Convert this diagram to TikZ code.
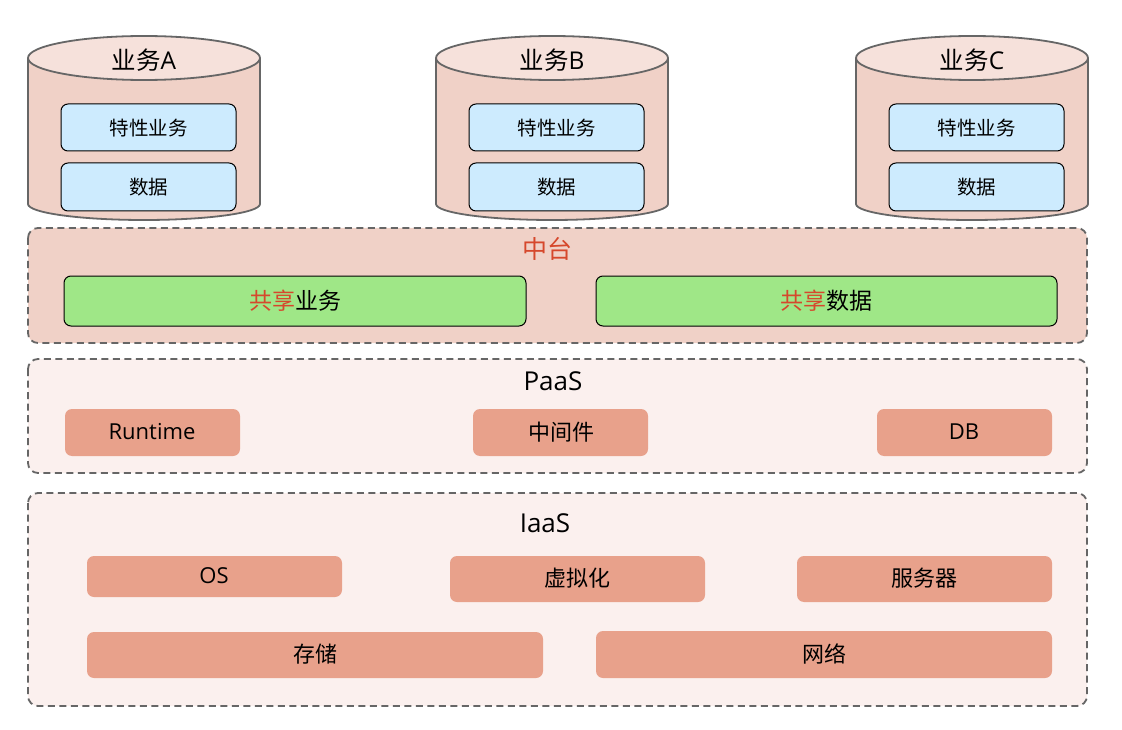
\documentclass[tikz,border=0pt]{standalone}
\usepackage{fontspec}
\setmainfont{Open Sans}
\newfontfamily\cjk{Noto Sans CJK SC}
\usetikzlibrary{shapes.geometric}
\definecolor{cylfill}{HTML}{F0D1C7}
\definecolor{cyltop}{HTML}{F6E1DB}
\definecolor{bluebox}{HTML}{CDEBFE}
\definecolor{greenbox}{HTML}{9FE787}
\definecolor{orangebox}{HTML}{E8A18B}
\definecolor{redtext}{HTML}{D6482C}
\definecolor{layerfill}{HTML}{FBF0EE}
\definecolor{ztfill}{HTML}{F0D1C7}
\definecolor{edgegray}{HTML}{666666}
\tikzset{
  bluestyle/.style={draw=black, fill=bluebox, rounded corners=7pt, line width=1pt},
  greenstyle/.style={draw=black, fill=greenbox, rounded corners=7pt, line width=1pt},
  orangestyle/.style={fill=orangebox, rounded corners=7pt},
  layerstyle/.style={draw=edgegray, dash pattern=on 7pt off 4.5pt, line width=1.8pt, rounded corners=10pt},
  cylstyle/.style={draw=edgegray, line width=1.8pt, fill=cylfill},
  boxtext/.style={font=\fontsize{22}{26}\selectfont},
  cjkboxtext/.style={font=\cjk\fontsize{22}{26}\selectfont},
  smalltext/.style={font=\cjk\fontsize{19.5}{22}\selectfont},
  titletext/.style={font=\fontsize{26}{30}\selectfont},
}
\begin{document}
\begin{tikzpicture}[x=1pt,y=-1pt]
\useasboundingbox (0,0) rectangle (1122,730);
% cylinders
\foreach \xl/\lab/\nm in {28/A/a,436/B/b,856/C/c}{
  \pgfmathsetmacro{\xr}{\xl+232}
  \pgfmathsetmacro{\xc}{\xl+116}
  \draw[cylstyle] (\xl,58) -- (\xl,204) arc[start angle=180,end angle=360,x radius=116,y radius=-16] -- (\xr,58);
  \draw[cylstyle, fill=cyltop] (\xc,58) ellipse[x radius=116, y radius=22];
  \node[font=\fontsize{24.5}{28}\selectfont] (title\nm) at (\xc,60) {{\cjk 业务}\lab};
  \draw[bluestyle] (\xl+33,104) rectangle (\xl+208,151);
  \node[smalltext] (tx\nm) at (\xl+120.5,128) {特性业务};
  \draw[bluestyle] (\xl+33,163) rectangle (\xl+208,211);
  \node[smalltext] (sj\nm) at (\xl+120.5,187) {数据};
}
% zhongtai
\draw[layerstyle, fill=ztfill] (28,228) rectangle (1087,343);
\node[font=\cjk\fontsize{25}{28}\selectfont, text=redtext] (zt) at (547,249) {中台};
\draw[greenstyle] (64,276) rectangle (526,326);
\node[font=\cjk\fontsize{23}{26}\selectfont] (gxyw) at (295,301) {\textcolor{redtext}{共享}业务};
\draw[greenstyle] (596,276) rectangle (1057,326);
\node[font=\cjk\fontsize{23}{26}\selectfont] (gxsj) at (826,301) {\textcolor{redtext}{共享}数据};
% PaaS
\draw[layerstyle, fill=layerfill] (28,359) rectangle (1087,473);
\node[titletext] (paas) at (553,381) {PaaS};
\fill[orangestyle] (65,409) rectangle (240,456);
\node[boxtext] (rt) at (152,432) {Runtime};
\fill[orangestyle] (473,409) rectangle (648,456);
\node[cjkboxtext] (zjj) at (561,432) {中间件};
\fill[orangestyle] (877,409) rectangle (1052,456);
\node[boxtext] (db) at (964,432) {DB};
% IaaS
\draw[layerstyle, fill=layerfill] (28,493) rectangle (1087,706);
\node[titletext] (iaas) at (545,523) {IaaS};
\fill[orangestyle] (87,556) rectangle (342,597);
\node[boxtext] (os) at (214,576) {OS};
\fill[orangestyle] (450,556) rectangle (705,602);
\node[cjkboxtext] (xnh) at (577,578) {虚拟化};
\fill[orangestyle] (797,556) rectangle (1052,602);
\node[cjkboxtext] (fwq) at (924,578) {服务器};
\fill[orangestyle] (87,632) rectangle (543,678);
\node[cjkboxtext] (cc) at (315,654) {存储};
\fill[orangestyle] (596,631) rectangle (1052,678);
\node[cjkboxtext] (wl) at (824,654) {网络};
\end{tikzpicture}
\end{document}
